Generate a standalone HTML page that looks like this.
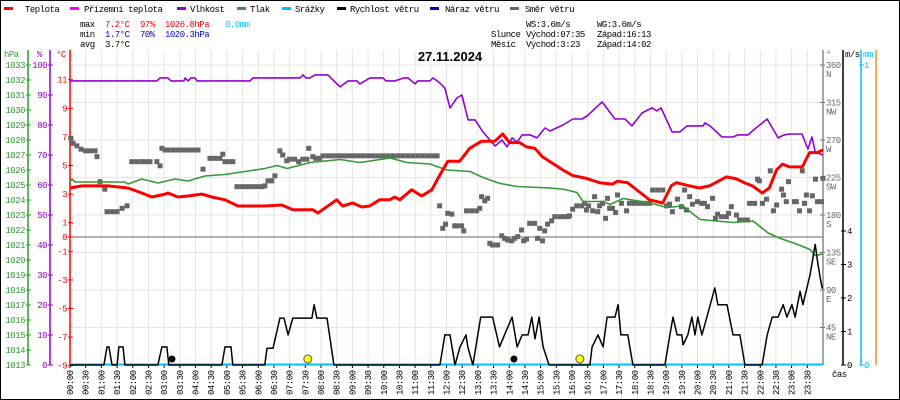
<!DOCTYPE html>
<html><head><meta charset="utf-8">
<style>
html,body{margin:0;padding:0;background:#fff;}
svg{display:block;}
text{font-family:"Liberation Mono","DejaVu Sans Mono",monospace;font-size:9px;letter-spacing:-0.5px;}
</style></head>
<body>
<svg id="chart" width="900" height="400" xmlns="http://www.w3.org/2000/svg">
<rect x="0.5" y="0.5" width="899" height="399" fill="#fff" stroke="#000"/>
<g id="grid"></g>
<g id="axes"></g>
<g id="series"></g>
<g id="header">
  <g>
    <g><rect x="4" y="7" width="9" height="3" fill="#ff0000"/><text x="25" y="12">Teplota</text></g>
    <g><rect x="70" y="7" width="9" height="3" fill="#ff00ff"/><text x="84" y="12">Přízemní teplota</text></g>
    <g><rect x="177" y="7" width="9" height="3" fill="#9400d3"/><text x="190" y="12">Vlhkost</text></g>
    <g><rect x="237" y="7" width="9" height="3" fill="#339933"/><text x="250" y="12">Tlak</text></g>
    <g><rect x="282" y="7" width="9" height="3" fill="#00bfff"/><text x="295" y="12">Srážky</text></g>
    <g><rect x="337" y="7" width="9" height="3" fill="#000"/><text x="350" y="12">Rychlost větru</text></g>
    <g><rect x="430" y="7" width="9" height="3" fill="#0000cc"/><text x="445" y="12">Náraz větru</text></g>
    <g><rect x="510" y="7" width="9" height="3" fill="#666"/><text x="525" y="12">Směr větru</text></g>
  </g>
  <g>
    <text x="80" y="27">max</text><text x="105" y="27" fill="#ff0000">7.2°C</text><text x="140" y="27" fill="#ff0000">97%</text><text x="165" y="27" fill="#ff0000">1026.8hPa</text><text x="225" y="27" fill="#00bfff">0.0mm</text>
    <text x="80" y="37">min</text><text x="105" y="37" fill="#0000cc">1.7°C</text><text x="140" y="37" fill="#0000cc">70%</text><text x="165" y="37" fill="#0000cc">1020.3hPa</text>
    <text x="80" y="47">avg</text><text x="105" y="47">3.7°C</text>
  </g>
  <g>
    <text x="526" y="27">WS:3.6m/s</text><text x="597" y="27">WG:3.6m/s</text>
    <text x="491" y="37">Slunce</text><text x="526" y="37">Východ:07:35</text><text x="597" y="37">Západ:16:13</text>
    <text x="491" y="47">Měsíc</text><text x="526" y="47">Východ:3:23</text><text x="597" y="47">Západ:14:02</text>
  </g>
  <text x="450" y="61" text-anchor="middle" style="font-family:'Liberation Sans',sans-serif;font-size:13px;font-weight:bold;letter-spacing:0">27.11.2024</text>
</g>
</svg>
<script>
// ---- data ----
const tempT=[0,0.38,1.21,1.85,2.29,2.61,3.03,3.12,3.44,3.76,4.2,4.52,4.94,5.35,6.21,6.75,7.1,7.74,7.9,8.5,8.69,9.01,9.3,9.55,9.87,10.19,10.35,10.51,10.89,11.21,11.53,11.78,12.04,12.42,12.74,13.12,13.54,13.79,14.01,14.33,14.55,14.81,15.06,15.7,16.02,16.46,16.88,17.29,17.45,17.77,18.15,18.47,18.89,19.17,19.33,19.75,20.06,20.38,20.92,21.24,21.5,21.75,22.07,22.29,22.52,22.71,22.93,23.34,23.57,23.82,24];
const tempV=[3.43,3.57,3.57,3.43,3.08,2.8,3.0,3.08,2.8,2.87,3.0,2.8,2.6,2.17,2.17,2.24,1.9,1.9,1.68,2.6,2.17,2.38,2.1,2.17,2.6,2.6,2.8,2.6,3.3,2.87,3.3,4.3,5.3,5.3,6.2,6.7,6.7,7.2,6.6,6.6,6.3,6.2,5.6,4.7,4.3,4.1,3.8,3.7,3.9,3.8,3.15,2.6,2.38,3.6,3.8,3.57,3.43,3.57,4.2,4.06,3.78,3.57,3.08,3.43,4.7,5.1,4.9,4.9,5.9,5.9,6.1];
const humT=[0,2.77,2.87,3.12,3.22,3.63,3.67,3.76,3.86,3.98,4.05,5.74,5.83,7.33,7.43,7.52,7.65,7.81,8.22,8.61,8.86,9.15,9.24,9.4,9.56,9.98,10.07,10.36,10.65,10.77,11.0,11.09,11.47,11.57,11.79,11.95,12.11,12.33,12.49,12.69,12.91,13.16,13.55,13.77,13.93,14.09,14.25,14.41,14.66,14.88,15.14,15.3,15.71,16.03,16.32,16.48,16.96,17.37,17.69,17.91,18.23,18.55,18.71,18.84,19.19,19.44,19.67,20.18,20.24,20.4,20.78,21.13,21.29,21.61,21.83,22.22,22.57,22.76,22.95,23.33,23.52,23.65,23.75,24];
const humV=[94.7,94.7,95.7,95.7,94.7,94.7,95.7,94.7,95.7,95.7,94.7,94.7,95.7,95.7,96.7,95.7,95.7,96.7,96.7,92.7,94.7,94.7,93.7,94.7,95.7,95.7,94.7,94.7,95.7,95.7,93.7,94.7,94.7,95.7,94,92.3,85.7,89,90,81.7,81.7,77.7,73,75,72.7,75.7,74.3,76.7,76.7,75.7,79,78,80,82,82,83,87.7,82,82,79.7,84,85.7,84.7,85.7,77.7,77.7,79.7,79.7,80.7,79.7,76,76,76.7,76.7,78.7,82,75.7,76.7,77,77,72,76,71,70];
const presT=[0,0.06,0.16,1.75,1.85,2.29,2.8,3.35,3.76,4.3,4.94,5.58,6.21,6.6,6.92,7.65,8.61,9.24,10.2,10.74,11.47,12.01,12.75,13.16,13.71,14.25,15.3,15.78,16.16,16.35,16.99,17.21,17.63,18.49,19.03,19.54,20.08,21.13,21.77,22.25,22.69,23.11,23.59,23.75,24];
const presV=[1025.2,1025.4,1025.2,1025.2,1025.07,1025.4,1025.13,1025.4,1025.27,1025.6,1025.7,1025.9,1026.1,1026.3,1026.1,1026.5,1026.7,1026.5,1026.8,1026.5,1026.4,1026.0,1025.9,1025.5,1025.1,1024.9,1024.8,1024.7,1024.5,1023.9,1023.9,1023.7,1024.1,1023.8,1023.5,1023.6,1022.7,1022.5,1022.6,1021.8,1021.4,1021.1,1020.7,1020.3,1020.4];
const windT=[0,1.08,1.18,1.24,1.34,1.5,1.56,1.69,1.75,2.8,2.93,3.09,3.15,4.84,4.94,5.13,5.19,6.21,6.28,6.47,6.69,6.82,6.95,7.1,7.71,7.78,7.87,8.19,8.29,8.41,11.79,11.95,12.11,12.27,12.43,12.62,12.68,12.84,13.09,13.47,13.69,13.85,14.09,14.25,14.41,14.6,14.72,14.82,14.95,15.08,15.27,16.57,16.64,16.83,16.99,17.12,17.37,17.47,17.56,17.78,17.94,18.96,19.12,19.22,19.35,19.5,19.54,19.69,19.82,19.92,20.01,20.14,20.3,20.55,20.65,20.94,21.13,21.35,21.51,22.06,22.22,22.38,22.57,22.73,22.85,23.01,23.11,23.27,23.36,23.59,23.75,23.84,23.91,23.97,24];
const windV=[0,0,0.54,0.54,0,0,0.54,0.54,0,0,0.54,0.54,0,0,0.54,0.54,0,0,0.5,0.5,1.4,1.4,0.9,1.4,1.4,1.8,1.4,1.4,0.78,0,0,0.9,0.9,0,0.54,0.9,0.54,0,1.43,1.43,0.54,0.9,1.43,0.54,0.9,0.9,1.43,0.78,1.43,0.54,0,0,0.54,0.9,0.54,1.43,1.43,1.8,0.9,0.9,0,0,0.9,1.43,0.9,0.9,0.6,0.9,1.43,0.9,1.43,0.9,1.43,2.3,1.8,1.8,0.9,0.9,0,0,0.9,1.43,1.43,1.8,1.43,1.8,1.43,2.2,1.8,2.7,3.6,3.0,2.6,2.3,2.3];
const dirT=[0.03,0.1,0.22,0.35,0.5,0.65,0.8,0.86,0.96,1.11,1.18,1.34,1.5,1.66,1.82,1.97,2.13,2.29,2.39,2.55,2.77,2.87,2.93,3.03,3.12,3.28,3.44,3.6,3.76,3.92,4.08,4.24,4.46,4.62,4.78,4.87,4.94,5.1,5.19,5.32,5.48,5.64,5.8,5.96,6.12,6.21,6.31,6.43,6.53,6.69,6.78,6.91,7.0,7.16,7.29,7.42,7.55,7.61,7.74,7.83,7.96,8.06,8.22,8.38,8.54,8.7,8.86,9.02,9.18,9.34,9.5,9.66,9.82,9.98,10.14,10.3,10.46,10.62,10.78,10.94,11.1,11.26,11.42,11.58,11.7,11.78,11.88,11.97,12.04,12.17,12.26,12.32,12.48,12.55,12.64,12.8,12.96,13.06,13.12,13.22,13.31,13.38,13.47,13.63,13.76,13.85,13.95,14.08,14.17,14.27,14.39,14.46,14.55,14.65,14.81,14.9,14.97,15.06,15.13,15.22,15.35,15.45,15.61,15.76,15.86,15.92,16.02,16.15,16.31,16.4,16.46,16.53,16.66,16.72,16.82,16.88,16.97,17.07,17.13,17.2,17.29,17.39,17.45,17.58,17.74,17.83,17.99,18.15,18.31,18.47,18.57,18.73,18.89,19.01,19.11,19.2,19.36,19.49,19.59,19.65,19.75,19.84,20.0,20.13,20.22,20.32,20.48,20.57,20.64,20.76,20.92,20.99,21.08,21.24,21.34,21.5,21.59,21.66,21.82,21.91,21.97,22.07,22.2,22.32,22.42,22.52,22.68,22.74,22.83,22.9,23.09,23.15,23.25,23.34,23.41,23.47,23.57,23.66,23.76,23.82,23.95,24.0];
const dirV=[272,266,263,259,257,257,257,250,220,211,184,184,184,188,191,244,244,244,244,244,244,239,260,258,258,258,258,258,258,258,258,235,248,248,248,253,244,244,244,214,214,214,214,214,214,215,221,221,227,257,252,245,247,247,244,247,247,260,250,248,248,251,251,251,251,251,251,251,251,251,251,251,251,251,251,251,251,251,251,251,251,251,251,251,251,191,164,169,182,181,167,167,167,161,185,185,185,188,202,197,200,146,144,144,155,152,150,149,152,154,162,149,151,170,170,152,164,149,161,169,173,178,178,178,178,179,187,191,191,194,186,191,185,202,184,191,194,176,200,188,188,183,204,194,185,194,194,194,194,194,210,210,210,191,193,184,199,190,210,186,202,193,196,194,194,190,200,176,181,178,178,182,190,180,174,174,174,194,194,223,221,194,199,233,185,192,211,204,196,220,196,196,185,233,194,204,185,203,223,196,196,224];
const tempTicks=[11,9,7,5,3,1,0,-1,-3,-5,-7,-9];
const humTicks=[100,90,80,70,60,50,40,30,20,10,0];
const presTicks=[1033,1032,1031,1030,1029,1028,1027,1026,1025,1024,1023,1022,1021,1020,1019,1018,1017,1016,1015,1014,1013];
const dirTicks=[360,315,270,225,180,135,90,45];
const dirNames=["N","NW","W","SW","S","SE","E","NE"];
const windTicks=[0,1,2,3,4];
const sunMarks=[7.58,16.25];
const moonMarks=[3.25,14.15];

// ---- scales ----
const X0=70,X1=823,YB=365,YT=50;
const xS=t=>X0+t*(X1-X0)/24;
const yT=v=>237-v*14.3;
const yH=v=>365-v*3;
const yP=v=>365-(v-1013)*15;
const yD=v=>365-v*300/360;
const yW=v=>365-v*33.5;
const NS="http://www.w3.org/2000/svg";
function mk(tag,attrs,parent){const e=document.createElementNS(NS,tag);for(const k in attrs)e.setAttribute(k,attrs[k]);parent.appendChild(e);return e;}
const grid=document.getElementById('grid'),axes=document.getElementById('axes'),ser=document.getElementById('series');

// grid
for(let i=0;i<48;i++){const x=xS(i/2);
  const l=mk('line',{x1:x,x2:x,y1:YT,y2:YB,stroke:'#e4e4e4'},grid);
  
  
  const lab=(String(Math.floor(i/2)).padStart(2,'0'))+':'+(i%2?'30':'00');
  const tx=mk('text',{x:0,y:0,transform:`translate(${x+3},395) rotate(-90)`},axes);
  tx.textContent=lab;
  
  
  mk('line',{x1:x,x2:x,y1:365,y2:368,stroke:'#000'},axes);
}
dirTicks.forEach((d,i)=>{const y=yD(d);
  const l=mk('line',{x1:X0,x2:X1,y1:y,y2:y,stroke:'#e4e4e4'},grid);
  
  
  const a=mk('text',{x:826,y:y+3,fill:'#666'},axes);a.textContent=d;
  
  
  const b=mk('text',{x:826,y:y+12,fill:'#666'},axes);b.textContent=dirNames[i];
  
  
  mk('line',{x1:X1-3,x2:X1+2,y1:y,y2:y,stroke:'#666'},axes);
});
const zl=mk('line',{x1:X0,x2:X1,y1:yT(0),y2:yT(0),stroke:'#666'},grid);



// left axes
function axis(x,color,ticks,yf,name,lx,anchor){
  const a=mk('line',{x1:x,x2:x,y1:YT,y2:YB,stroke:color,'stroke-width':1.5},axes);
  
  
  ticks.forEach(v=>{const y=yf(v);
    mk('line',{x1:x-2,x2:x+3,y1:y,y2:y,stroke:color},axes);
    const t=mk('text',{x:lx,y:y+3,fill:color,'text-anchor':anchor},axes);t.textContent=v;
    
    
  });
}
axis(28,'#339933',presTicks,yP,'pressure-axis',25,'end');
axis(50,'#9400d3',humTicks,yH,'humidity-axis',47,'end');
axis(70,'#ff0000',tempTicks,yT,'temperature-axis',67,'end');
const at=[['hPa',4,'#339933'],['%',37,'#9400d3'],['°C',56,'#ff0000']];
at.forEach(a=>{const t=mk('text',{x:a[1],y:57,fill:a[2]},axes);t.textContent=a[0];
  
  });
// right axes
const da=mk('line',{x1:X1,x2:X1,y1:YT,y2:YB,stroke:'#888','stroke-width':1.5},axes);


axis(843,'#000',windTicks,yW,'wind-axis',847,'start');
const ma=mk('line',{x1:861,x2:861,y1:YT,y2:YB,stroke:'#00bfff','stroke-width':1.5},axes);


[[0,365],[1,65]].forEach(p=>{mk('line',{x1:859,x2:864,y1:p[1],y2:p[1],stroke:'#00bfff'},axes);
  const t=mk('text',{x:864,y:p[1]+3,fill:'#00bfff'},axes);t.textContent=p[0];
  
  });
const oa=mk('line',{x1:876,x2:876,y1:YT,y2:YB,stroke:'#ff8c1a','stroke-width':1.5},axes);


[['°',826,'#666'],['m/s',845,'#000'],['mm',863,'#00bfff']].forEach(a=>{const t=mk('text',{x:a[1],y:57,fill:a[2]},axes);t.textContent=a[0];
  
  });
const cas=mk('text',{x:832,y:377},axes);cas.textContent='čas';



// series
dirT.forEach((t,i)=>{const r=mk('rect',{x:xS(t)-2.5,y:yD(dirV[i])-2.5,width:5,height:5,fill:'#666'},ser);
  
  });
function line(ts,vs,yf,color,w,name){
  const d=ts.map((t,i)=>(i?'L':'M')+xS(t).toFixed(1)+','+yf(vs[i]).toFixed(1)).join('');
  const p=mk('path',{d:d,fill:'none',stroke:color,'stroke-width':w,'stroke-linejoin':'round'},ser);
  
  
}
const pr=mk('line',{x1:X0,x2:X1,y1:364.5,y2:364.5,stroke:'#00bfff','stroke-width':2},ser);


line(presT,presV,yP,'#339933',1.6,'pressure-line');
line(humT,humV,yH,'#9400d3',1.6,'humidity-line');
line(tempT,tempV,yT,'#ff0000',3,'temperature-line');
line(windT,windV,yW,'#000',1.5,'wind-speed-line');
sunMarks.forEach(t=>{const c=mk('circle',{cx:xS(t),cy:359,r:4,fill:'#ffff00',stroke:'#555'},ser);
  
  });
moonMarks.forEach(t=>{const c=mk('circle',{cx:xS(t),cy:359,r:3.5,fill:'#000'},ser);
  
  });
</script>
</body></html>
